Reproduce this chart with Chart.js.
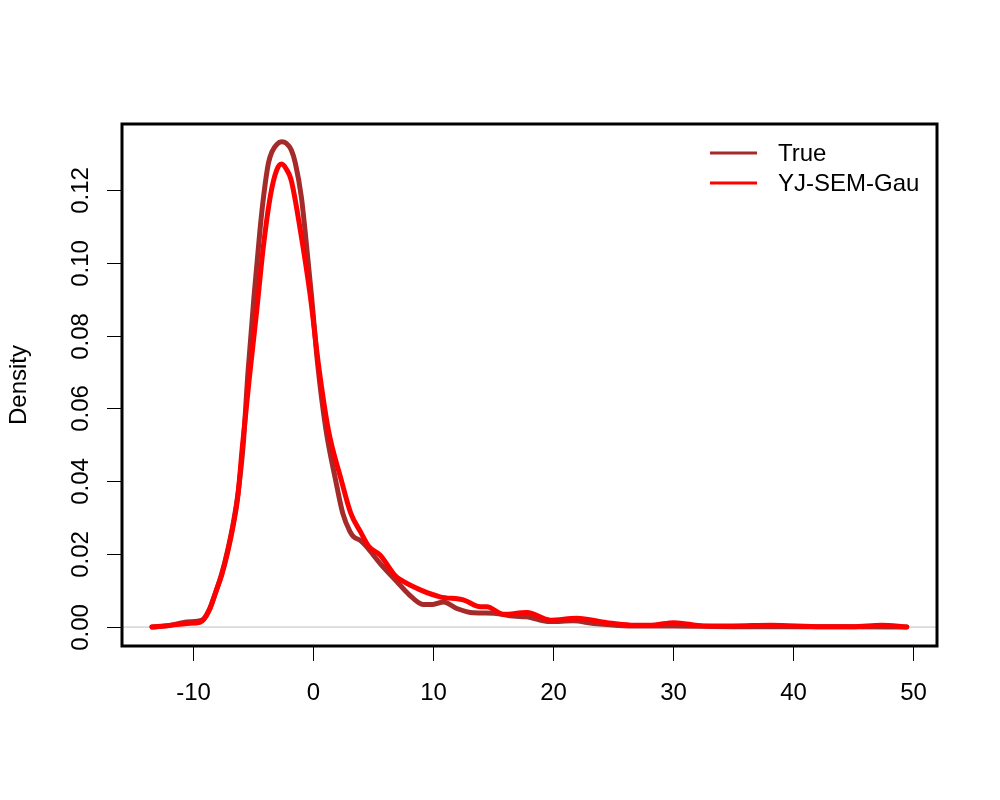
<!DOCTYPE html>
<html>
<head>
<meta charset="utf-8">
<script src="https://cdn.jsdelivr.net/npm/chart.js@4/dist/chart.umd.min.js"></script>
<style>
  body { margin: 0; background: #fff; }
  canvas { display: block; }
</style>
</head>
<body>
<canvas id="chart" width="1000" height="800"></canvas>
<script>
// density curves
const trueX = [-13.4, -12.0, -10.5, -9.6, -9.1, -8.6, -8.1, -7.6, -7.1, -6.6, -6.2, -5.8, -5.4, -4.9, -4.4, -4.1, -3.7, -3.4, -3.0, -2.6, -2.2, -1.8, -1.45, -0.95, -0.65, -0.1, 0.4, 1.1, 1.9, 2.5, 3.1, 3.4, 4.0, 4.5, 5.6, 7.0, 8.0, 9.2, 10.0, 10.9, 12.0, 13.4, 15.1, 16.7, 17.8, 19.8, 21.7, 23.4, 27.0, 30.0, 35.0, 40.0, 45.0, 49.5];
const trueY = [0.0000, 0.0004, 0.0014, 0.0016, 0.0022, 0.0050, 0.0095, 0.0145, 0.0210, 0.0290, 0.0375, 0.0500, 0.0700, 0.0907, 0.1090, 0.1182, 0.1273, 0.1305, 0.1325, 0.1332, 0.1328, 0.1310, 0.1273, 0.1180, 0.1090, 0.0907, 0.0724, 0.0541, 0.0404, 0.0312, 0.0262, 0.0248, 0.0237, 0.0220, 0.0175, 0.0125, 0.0090, 0.0062, 0.0062, 0.0069, 0.0051, 0.0039, 0.0038, 0.0030, 0.0028, 0.0015, 0.0017, 0.0010, 0.0003, 0.0003, 0.0001, 0.0001, 0.0001, 0.0000];

const fitX = [-13.4, -12.0, -10.5, -9.4, -9.1, -8.6, -8.1, -7.6, -7.1, -6.6, -6.25, -5.87, -5.3, -4.7, -4.1, -3.5, -3.0, -2.6, -2.2, -1.8, -1.04, -0.2, 0.46, 1.3, 2.37, 3.17, 4.0, 4.7, 5.6, 6.9, 7.3, 8.96, 10.6, 12.6, 13.96, 14.5, 15.9, 17.85, 19.8, 22.0, 24.5, 25.6, 27.0, 28.5, 30.1, 32.6, 35.0, 38.2, 42.4, 45.0, 47.4, 49.5];
const fitY = [0.0000, 0.0004, 0.0010, 0.0013, 0.0020, 0.0048, 0.0095, 0.0142, 0.0205, 0.0285, 0.0358, 0.0495, 0.0680, 0.0860, 0.1050, 0.1190, 0.1255, 0.1271, 0.1257, 0.1227, 0.1090, 0.0907, 0.0724, 0.0541, 0.0404, 0.0312, 0.0260, 0.0220, 0.0198, 0.0140, 0.0130, 0.0102, 0.0083, 0.0074, 0.0056, 0.0056, 0.0035, 0.0040, 0.0019, 0.0024, 0.0012, 0.0008, 0.0005, 0.0006, 0.0012, 0.0003, 0.0003, 0.0005, 0.0001, 0.0001, 0.0005, 0.0000];

const seriesLabels = ['True', 'YJ-SEM-Gau'];
const seriesColors = ['#A52A2A', '#FF0000'];

const xTicks = [-10, 0, 10, 20, 30, 40, 50];
const yTicks = [0.00, 0.02, 0.04, 0.06, 0.08, 0.10, 0.12];

const FONT = '24px "Liberation Sans", Arial, sans-serif';

const toPoints = (xs, ys) => xs.map((x, i) => ({ x: x, y: ys[i] }));

// R style box, axes, labels and legend
const rStyle = {
  id: 'rStyle',
  beforeDatasetsDraw(chart) {
    const { ctx, chartArea: a, scales: { y } } = chart;
    const y0 = y.getPixelForValue(0);
    ctx.save();
    ctx.strokeStyle = '#BEBEBE';
    ctx.lineWidth = 1;
    ctx.beginPath();
    ctx.moveTo(a.left, y0);
    ctx.lineTo(a.right, y0);
    ctx.stroke();
    ctx.restore();
  },
  afterDraw(chart) {
    const { ctx, chartArea: a, scales: { x, y } } = chart;
    ctx.save();

    // box
    ctx.strokeStyle = '#000';
    ctx.lineWidth = 3;
    ctx.strokeRect(a.left, a.top, a.right - a.left, a.bottom - a.top);

    ctx.lineWidth = 1;
    ctx.fillStyle = '#000';
    ctx.font = FONT;

    // x axis
    ctx.textAlign = 'center';
    ctx.textBaseline = 'middle';
    xTicks.forEach(v => {
      const px = Math.round(x.getPixelForValue(v)) + 0.5;
      ctx.beginPath();
      ctx.moveTo(px, a.bottom);
      ctx.lineTo(px, a.bottom + 15);
      ctx.stroke();
      ctx.fillText(String(v), px, 693);
    });

    // y axis
    yTicks.forEach(v => {
      const py = Math.round(y.getPixelForValue(v)) + 0.5;
      ctx.beginPath();
      ctx.moveTo(a.left - 15, py);
      ctx.lineTo(a.left, py);
      ctx.stroke();
      ctx.save();
      ctx.translate(81, py);
      ctx.rotate(-Math.PI / 2);
      ctx.fillText(v.toFixed(2), 0, 0);
      ctx.restore();
    });

    ctx.save();
    ctx.translate(19, (a.top + a.bottom) / 2);
    ctx.rotate(-Math.PI / 2);
    ctx.fillText('Density', 0, 0);
    ctx.restore();

    // legend
    ctx.textAlign = 'left';
    seriesLabels.forEach((lab, i) => {
      const ly = 153 + i * 30;
      ctx.strokeStyle = seriesColors[i];
      ctx.lineWidth = 3;
      ctx.beginPath();
      ctx.moveTo(710, ly);
      ctx.lineTo(757, ly);
      ctx.stroke();
      ctx.fillStyle = '#000';
      ctx.fillText(lab, 778, ly + 1);
    });

    ctx.restore();
  }
};

new Chart(document.getElementById('chart'), {
  type: 'scatter',
  data: {
    datasets: [
      {
        label: seriesLabels[0],
        data: toPoints(trueX, trueY),
        borderColor: seriesColors[0],
        order: 2
      },
      {
        label: seriesLabels[1],
        data: toPoints(fitX, fitY),
        borderColor: seriesColors[1],
        order: 1
      }
    ]
  },
  options: {
    responsive: false,
    animation: false,
    showLine: true,
    layout: { padding: { left: 122, top: 124, right: 63, bottom: 154 } },
    elements: {
      point: { radius: 0, hoverRadius: 0 },
      line: { borderWidth: 5, cubicInterpolationMode: 'monotone', borderCapStyle: 'round', borderJoinStyle: 'round' }
    },
    scales: {
      x: { type: 'linear', display: false, min: -15.9, max: 52.02 },
      y: { type: 'linear', display: false, min: -0.0052, max: 0.1381 }
    },
    plugins: {
      legend: { display: false },
      tooltip: { enabled: false }
    }
  },
  plugins: [rStyle]
});
</script>
</body>
</html>
